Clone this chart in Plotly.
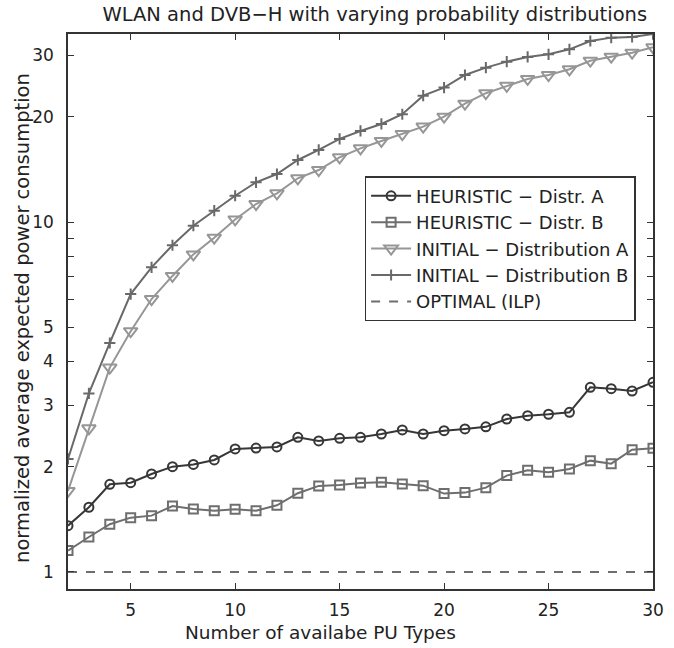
import plotly.graph_objects as go

x_types = list(range(2, 31))

heuristic_a = [1.356, 1.531, 1.781, 1.80, 1.906, 2.0, 2.03, 2.09, 2.247, 2.26,
               2.277, 2.427, 2.369, 2.41, 2.427, 2.48, 2.547, 2.48, 2.535, 2.564,
               2.60, 2.737, 2.798, 2.824, 2.861, 3.373, 3.342, 3.291, 3.486]

heuristic_b = [1.151, 1.259, 1.369, 1.43, 1.449, 1.544, 1.514, 1.497, 1.51, 1.497,
               1.551, 1.679, 1.762, 1.773, 1.796, 1.804, 1.785, 1.765, 1.675, 1.686,
               1.742, 1.886, 1.952, 1.927, 1.97, 2.081, 2.04, 2.237, 2.257]

initial_a = [1.705, 2.575, 3.84, 4.88, 6.03, 7.02, 8.09, 9.03, 10.18, 11.27,
             12.09, 13.35, 14.1, 15.33, 16.26, 17.07, 17.87, 18.76, 20.03, 21.82,
             23.37, 24.55, 25.67, 26.35, 27.36, 28.95, 29.72, 30.52, 31.63]

initial_b = [2.104, 3.24, 4.515, 6.23, 7.43, 8.59, 9.77, 10.79, 11.9, 13.0,
             13.73, 15.06, 16.09, 17.3, 18.23, 19.09, 20.35, 23.0, 24.25, 26.35,
             27.66, 28.77, 29.68, 30.2, 31.2, 32.96, 33.7, 33.84, 34.5]

optimal = [1.0, 1.0, 1.0, 1.0, 1.0, 1.0, 1.0, 1.0, 1.0, 1.0,
           1.0, 1.0, 1.0, 1.0, 1.0, 1.0, 1.0, 1.0, 1.0, 1.0,
           1.0, 1.0, 1.0, 1.0, 1.0, 1.0, 1.0, 1.0, 1.0]

y_tickvals = [1, 2, 3, 4, 5, 6, 7, 8, 9, 10, 20, 30]
y_ticktext = ["1", "2", "3", "4", "5", "", "", "", "", "10", "20", "30"]
x_tickvals = [5, 10, 15, 20, 25, 30]

FONT = "DejaVu Sans"
AXC = "#333333"
TXT = "#222222"

fig = go.Figure()

fig.add_trace(go.Scatter(
    x=x_types, y=heuristic_a, mode="lines+markers",
    name="HEURISTIC − Distr. A",
    line=dict(color="rgb(55,55,55)", width=2),
    marker=dict(symbol="circle-open", size=9, color="rgb(55,55,55)",
                line=dict(width=2, color="rgb(55,55,55)")),
))
fig.add_trace(go.Scatter(
    x=x_types, y=heuristic_b, mode="lines+markers",
    name="HEURISTIC − Distr. B",
    line=dict(color="rgb(110,110,110)", width=2),
    marker=dict(symbol="square-open", size=9, color="rgb(110,110,110)",
                line=dict(width=2, color="rgb(110,110,110)")),
))
fig.add_trace(go.Scatter(
    x=x_types, y=initial_a, mode="lines+markers",
    name="INITIAL − Distribution A",
    line=dict(color="rgb(150,150,150)", width=2),
    marker=dict(symbol="triangle-down-open", size=12, color="rgb(150,150,150)",
                line=dict(width=2, color="rgb(150,150,150)")),
))
fig.add_trace(go.Scatter(
    x=x_types, y=initial_b, mode="lines+markers",
    name="INITIAL − Distribution B",
    line=dict(color="rgb(105,105,105)", width=2),
    marker=dict(symbol="cross-thin", size=8, color="rgb(105,105,105)",
                line=dict(width=2, color="rgb(105,105,105)")),
))
fig.add_trace(go.Scatter(
    x=x_types, y=optimal, mode="lines",
    name="OPTIMAL (ILP)",
    line=dict(color="rgb(110,110,110)", width=2, dash="dash"),
))

fig.update_layout(
    width=674, height=648,
    margin=dict(l=68, r=10, t=34, b=59),
    paper_bgcolor="white", plot_bgcolor="white",
    font=dict(family=FONT, size=17, color=TXT),
    title=dict(text="WLAN and DVB−H with varying probability distributions",
               x=0.556, xanchor="center", y=0.978, yanchor="middle",
               pad=dict(t=0, b=0, l=0, r=0),
               font=dict(family=FONT, size=19.5, color=TXT)),
    showlegend=True,
    legend=dict(x=0.507, y=0.744, xanchor="left", yanchor="top",
                bgcolor="white", bordercolor=AXC, borderwidth=1.5,
                font=dict(family=FONT, size=18, color=TXT),
                itemwidth=40),
    xaxis=dict(range=[2, 30], tickvals=x_tickvals, ticks="inside", ticklen=6,
               tickcolor=AXC, showline=True, linecolor=AXC, linewidth=1.5,
               mirror="ticks", showgrid=False, zeroline=False,
               ticklabelstandoff=5,
               tickfont=dict(family=FONT, size=17, color=TXT)),
    yaxis=dict(type="log", range=[-0.0487, 1.538], tickvals=y_tickvals,
               ticktext=y_ticktext, ticks="inside", ticklen=6, tickcolor=AXC,
               showline=True, linecolor=AXC, linewidth=1.5, mirror="ticks",
               showgrid=False, zeroline=False, ticklabelstandoff=9,
               tickfont=dict(family=FONT, size=17, color=TXT)),
    annotations=[
        dict(text="Number of availabe PU Types", xref="paper", yref="paper",
             x=0.431, y=-0.078, xanchor="center", yanchor="middle",
             showarrow=False, font=dict(family=FONT, size=18.5, color=TXT)),
        dict(text="normalized average expected power consumption",
             xref="paper", yref="paper", x=-0.079, y=0.488,
             xanchor="center", yanchor="middle", textangle=-90,
             showarrow=False, font=dict(family=FONT, size=19.5, color=TXT)),
    ],
)

fig.write_html("out.html")
